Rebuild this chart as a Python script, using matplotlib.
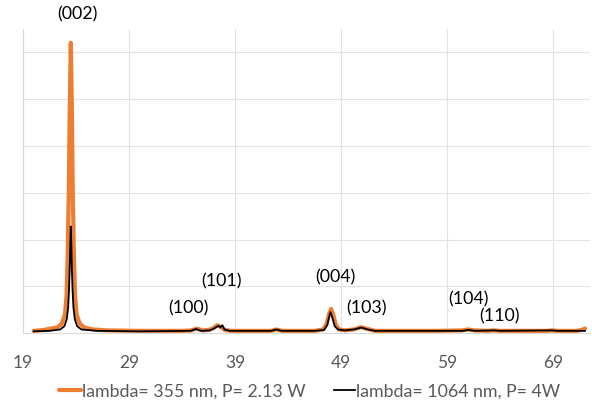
import matplotlib.pyplot as plt

plt.rcParams['font.family'] = ['Lato', 'DejaVu Sans']

# orange trace, lambda = 355 nm
x355 = [20.0, 21.0, 21.6, 22.2, 22.65, 22.95, 23.1, 23.2, 23.32, 23.4, 23.5,
        23.6, 23.68, 23.8, 23.9, 24.05, 24.35, 24.8, 25.6, 27.0, 30.0, 34.0,
        34.9, 35.4, 35.9, 36.5, 36.9, 37.3, 37.7, 38.0, 38.6, 42.4, 42.9, 43.4,
        46.5, 47.3, 47.6, 47.85, 48.05, 48.25, 48.5, 48.8, 49.4, 50.2, 50.9,
        51.5, 52.2, 58.0, 60.4, 61.0, 61.6, 62.8, 63.4, 64.0, 68.4, 68.9, 69.4,
        71.2, 71.7, 72.0]
y355 = [0.05, 0.07, 0.10, 0.12, 0.20, 0.40, 0.80, 1.60, 3.10, 4.80, 6.20,
        4.80, 3.10, 1.60, 0.80, 0.40, 0.20, 0.12, 0.08, 0.06, 0.05, 0.05,
        0.06, 0.10, 0.06, 0.07, 0.10, 0.17, 0.13, 0.07, 0.05, 0.05, 0.08, 0.05,
        0.05, 0.08, 0.18, 0.40, 0.52, 0.40, 0.18, 0.08, 0.06, 0.08, 0.13,
        0.09, 0.05, 0.05, 0.06, 0.08, 0.06, 0.05, 0.06, 0.05, 0.05, 0.06, 0.05,
        0.05, 0.07, 0.10]

# black trace, lambda = 1064 nm
x1064 = [20.0, 21.5, 22.5, 22.9, 23.12, 23.25, 23.33, 23.4, 23.45, 23.5,
         23.55, 23.6, 23.67, 23.75, 23.88, 24.1, 24.5, 26.0, 30.0, 34.8, 35.3,
         35.8, 36.6, 37.0, 37.45, 37.6, 37.8, 38.0, 38.5, 42.4, 42.9, 43.4,
         46.5, 47.4, 47.7, 47.9, 48.0, 48.15, 48.4, 48.7, 49.3, 50.2, 50.9,
         51.5, 52.2, 60.5, 61.0, 61.6, 63.4, 64.0, 68.9, 69.4, 72.0]
y1064 = [0.04, 0.05, 0.08, 0.15, 0.30, 0.55, 0.90, 1.40, 1.90, 2.28,
         1.90, 1.40, 0.90, 0.55, 0.30, 0.15, 0.08, 0.05, 0.04, 0.05, 0.09,
         0.05, 0.06, 0.10, 0.16, 0.12, 0.17, 0.08, 0.05, 0.05, 0.08, 0.05,
         0.05, 0.07, 0.18, 0.38, 0.45, 0.35, 0.15, 0.08, 0.06, 0.08, 0.12,
         0.08, 0.05, 0.05, 0.07, 0.05, 0.06, 0.05, 0.06, 0.05, 0.05]

peak_labels = ['(002)', '(100)', '(101)', '(004)', '(103)', '(104)', '(110)']
label_x = [24.1, 34.6, 37.7, 48.5, 51.4, 61.0, 63.9]
label_y = [6.8, 0.54, 1.1, 1.2, 0.54, 0.73, 0.35]

xticks = [19, 29, 39, 49, 59, 69]

fig = plt.figure(figsize=(5.92, 4.0), dpi=100)
ax = fig.add_axes([0.039, 0.167, 0.958, 0.761])

ax.plot(x355, y355, color='#ED7D31', linewidth=3.0, solid_capstyle='round',
        label='lambda= 355 nm, P= 2.13 W')
ax.plot(x1064, y1064, color='black', linewidth=1.3,
        label='lambda= 1064 nm, P= 4W')

for t, px, py in zip(peak_labels, label_x, label_y):
    ax.text(px, py, t, ha='center', va='center', fontsize=12.8, color='black')

ax.set_xlim(19, 72.5)
ax.set_ylim(0, 6.5)
ax.set_xticks(xticks)
ax.set_yticks([0, 1, 2, 3, 4, 5, 6])
ax.set_yticklabels([])
ax.tick_params(axis='both', length=0, colors='#595959', labelsize=12.5, pad=16)
ax.grid(True, color='#e3e3e3', linewidth=0.8)
ax.set_axisbelow(True)
for s in ['top', 'right']:
    ax.spines[s].set_visible(False)
for s in ['left', 'bottom']:
    ax.spines[s].set_color('#d9d9d9')
    ax.spines[s].set_linewidth(0.8)

leg = fig.legend(loc='center', bbox_to_anchor=(0.523, 0.022), ncol=2,
                 frameon=False, fontsize=12.8, handlelength=1.2,
                 handletextpad=0.05, columnspacing=1.6)
for t in leg.get_texts():
    t.set_color('#595959')

fig.savefig('out.png', dpi=100)
